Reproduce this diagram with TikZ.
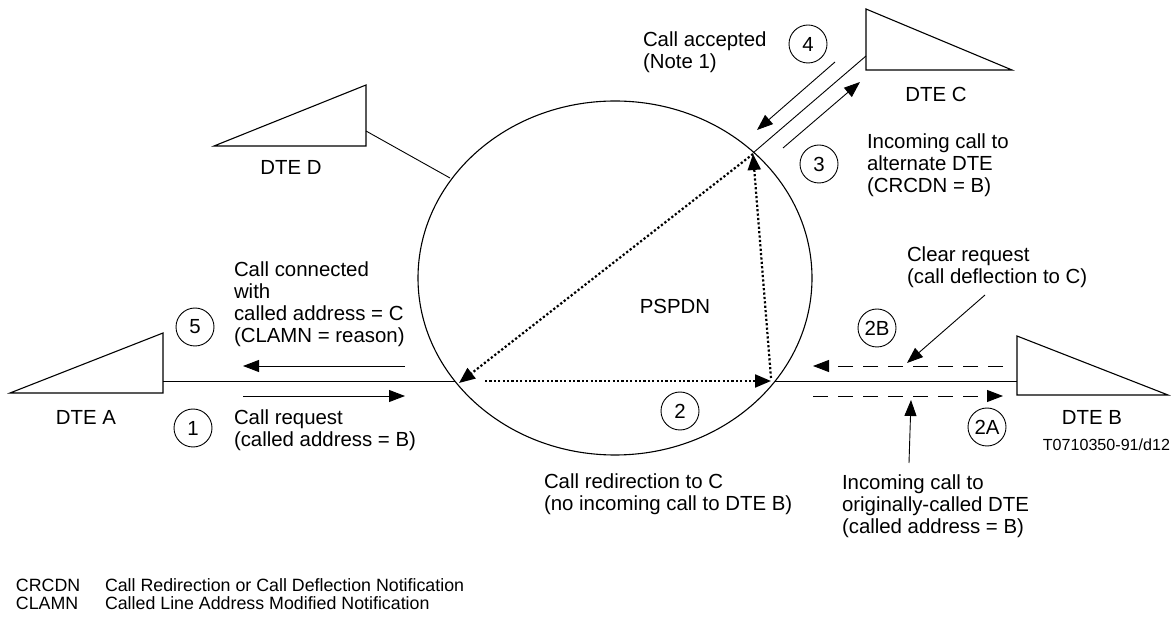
\documentclass[tikz,border=0pt]{standalone}
\usepackage{fontspec}
\setmainfont{Liberation Sans}
\usetikzlibrary{arrows.meta,shapes.geometric}
\begin{document}
\begin{tikzpicture}[x=1pt,y=-1pt,
  every node/.style={inner sep=0pt, outer sep=0pt},
  txt/.style={font=\fontsize{20.4}{22}\selectfont, align=left, anchor=north west},
  lbl/.style={font=\fontsize{20.4}{22}\selectfont, anchor=base},
  leg/.style={font=\fontsize{17.8}{18}\selectfont, anchor=base west},
  num/.style={draw, circle, minimum size=38pt, line width=0.9pt, font=\fontsize{20.4}{22}\selectfont},
  dte/.style={draw, line width=1.1pt, line join=miter, fill=white},
  wire/.style={line width=0.9pt},
  tip/.style={-{Triangle[length=16pt,width=12pt]}},
  msg/.style={line width=0.9pt, tip},
  dmsg/.style={line width=0.9pt, tip, dash pattern=on 15pt off 10pt},
  dots/.style={line width=2.2pt, dash pattern=on 2.2pt off 2.2pt, -{Triangle[length=16pt,width=13pt]}}
]
\useasboundingbox (0,0) rectangle (1176,617);

% network
\node[draw, ellipse, minimum width=394pt, minimum height=354pt, line width=1.1pt] (net) at (615,278) {};
\node[lbl] (pspdn) at (675,314) {PSPDN};

% DTEs
\draw[dte] (10,393) -- (163,333) -- (163,393) -- cycle;
\node[lbl] (dtea) at (86,425) {DTE A};
\draw[dte] (214,146) -- (366,85) -- (366,146) -- cycle;
\node[lbl] (dted) at (291,175) {DTE D};
\draw[dte] (1017,336) -- (1017,395) -- (1168,395) -- cycle;
\node[lbl] (dteb) at (1092,425) {DTE B};
\draw[dte] (866,9) -- (866,70) -- (1012,70) -- cycle;
\node[lbl] (dtec) at (936,102) {DTE C};
\node[font=\fontsize{16.1}{17}\selectfont, anchor=base east] (code) at (1170,451) {T0710350-91/d12};

% access points
\coordinate (aA) at (163,381);
\coordinate (nA) at (455,381);
\coordinate (aB) at (1017,381);
\coordinate (nB) at (775,381);
\coordinate (aD) at (366,131);
\coordinate (nD) at (450,178);
\coordinate (aC) at (866,56);
\coordinate (nC) at (753,153);
\draw[wire] (aA) -- (nA);
\draw[wire] (nB) -- (aB);
\draw[wire] (aD) -- (nD);
\draw[wire] (aC) -- (nC);

% dotted internal routing
\coordinate (hs) at (485,381);
\coordinate (R) at (771,381);
\coordinate (Rv) at (771,378);
\coordinate (T) at (753,154);
\coordinate (L) at (459,383);
\draw[dots] (hs) -- (R);
\draw[dots] (Rv) -- (T);
\draw[dots] (T) -- (L);

% message arrows A side
\coordinate (m5s) at (405,366); \coordinate (m5e) at (243,366);
\coordinate (m1s) at (243,396); \coordinate (m1e) at (405,396);
\draw[msg] (m5s) -- (m5e);
\draw[msg] (m1s) -- (m1e);

% message arrows B side
\coordinate (b2s) at (1003,366); \coordinate (b2e) at (813,366);
\coordinate (a2s) at (813,396); \coordinate (a2e) at (1003,396);
\draw[dmsg] (b2s) -- (b2e);
\draw[dmsg] (a2s) -- (a2e);

% message arrows C side
\coordinate (m4s) at (835,62); \coordinate (m4e) at (757,130);
\coordinate (m3s) at (783,148); \coordinate (m3e) at (860,82);
\draw[msg] (m4s) -- (m4e);
\draw[msg] (m3s) -- (m3e);

% step numbers
\node[num] (n4) at (808,44) {4};
\node[num] (n3) at (819,164) {3};
\node[num] (n5) at (195,327) {5};
\node[num] (n1) at (193,428) {1};
\node[num] (n2) at (680,411) {2};
\node[num] (n2b) at (877,328) {2B};
\node[num] (n2a) at (987,427) {2A};

% texts
\node[txt] (t4) at (643,32) {Call accepted\\(Note 1)};
\node[txt] (t3) at (867,134) {Incoming call to\\alternate DTE\\(CRCDN = B)};
\node[txt] (t5) at (234,262) {Call connected\\with\\called address = C\\(CLAMN = reason)};
\node[txt] (t1) at (234,410) {Call request\\(called address = B)};
\node[txt] (t2) at (544,474) {Call redirection to C\\(no incoming call to DTE B)};
\node[txt] (t2b) at (907,247) {Clear request\\(call deflection to C)};
\node[txt] (t2a) at (842,475) {Incoming call to\\originally-called DTE\\(called address = B)};

% pointers
\coordinate (p2bs) at (985,295); \coordinate (p2be) at (907,363);
\coordinate (p2as) at (909,463); \coordinate (p2ae) at (911,400);
\draw[msg] (p2bs) -- (p2be);
\draw[msg] (p2as) -- (p2ae);

% legend
\node[leg] (k1) at (16,591) {CRCDN};
\node[leg] (v1) at (105,591) {Call Redirection or Call Deflection Notification};
\node[leg] (k2) at (16,609) {CLAMN};
\node[leg] (v2) at (105,609) {Called Line Address Modified Notification};
\end{tikzpicture}
\end{document}
